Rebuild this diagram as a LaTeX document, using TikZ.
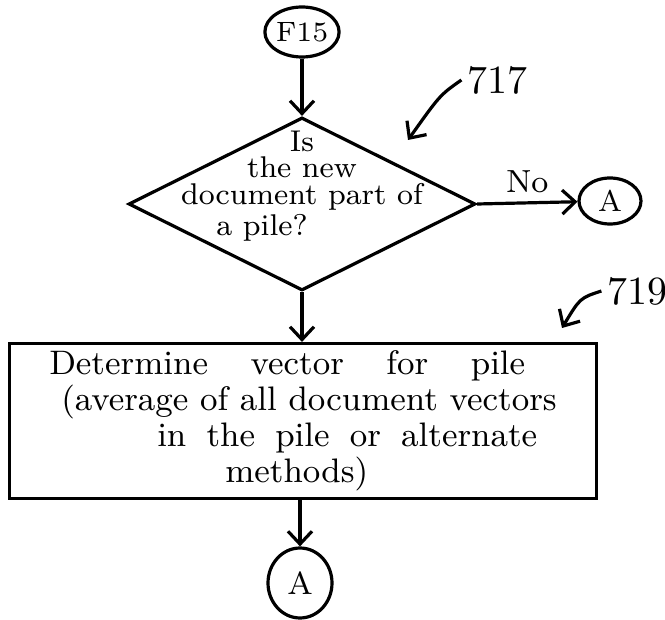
\documentclass[tikz,border=0pt]{standalone}
\usepackage{tikz}
\usetikzlibrary{arrows.meta,shapes.geometric}

\begin{document}
\begin{tikzpicture}[
    x=0.25pt, y=-0.25pt,
    line width=0.8pt,
    >={Straight Barb[length=3.2pt,width=6pt,line width=0.8pt]},
    lab/.style={inner sep=1pt, font=\fontsize{10}{10}\selectfont},
    conn/.style={draw, ellipse, inner sep=0pt, line width=0.8pt},
  ]
  \useasboundingbox (0,0) rectangle (665,620);

  %% ---- start connector and question ---------------------------------
  \node[conn, minimum width=16.5pt, minimum height=12.5pt,
        font=\fontsize{7}{7}\selectfont] (f15) at (302,32) {F15};
  \node[draw, diamond, inner sep=0pt, minimum width=86.75pt,
        minimum height=43.25pt] (pile) at (302,204) {};
  \node[align=center, inner sep=0pt, font=\fontsize{7.5}{6.6}\selectfont]
    (piletext) at (302,186)
    {Is\\ the new\\ document part of\\ a pile?\hspace*{20pt}};
  \draw[->] (f15) -- (pile.north);

  %% ---- no branch ----------------------------------------------------
  \node[conn, minimum width=15.5pt, minimum height=11.5pt,
        font=\fontsize{7.5}{7.5}\selectfont] (aright) at (610,201) {A};
  \draw[->] (pile.east) -- (aright) node[midway, above=1pt, lab,
        font=\fontsize{8}{8}\selectfont] (no) {No};

  %% ---- determine vector ---------------------------------------------
  \node[draw, rectangle, minimum width=146.75pt, minimum height=38.75pt,
        inner sep=0pt, align=left, font=\fontsize{8.5}{9}\selectfont]
    (vec) at (303,421)
    {\hbox to 119pt{Determine\hfil vector\hfil for\hfil pile}\\
     \hspace*{3pt}(average of all document vectors\\
     \hspace*{27pt}\hbox to 95pt{in\hfil the\hfil pile\hfil or\hfil alternate}\\
     \hspace*{44pt}methods)};
  \draw[->] (pile.south) -- (vec.north -| pile.south);

  \node[conn, minimum width=16pt, minimum height=17.5pt,
        font=\fontsize{8}{8}\selectfont] (abottom) at (300,583) {A};
  \draw[->] (vec.south -| abottom.north) -- (abottom.north);

  %% ---- reference numerals -------------------------------------------
  \node[lab] (n717) at (497,80) {717};
  \coordinate (p717) at (408,140);
  \draw[->] (n717.west) .. controls (440,95) .. (p717);
  \node[lab] (n719) at (637,291) {719};
  \coordinate (p719) at (562,328);
  \draw[->] (n719.west) .. controls (580,298) .. (p719);
\end{tikzpicture}
\end{document}
